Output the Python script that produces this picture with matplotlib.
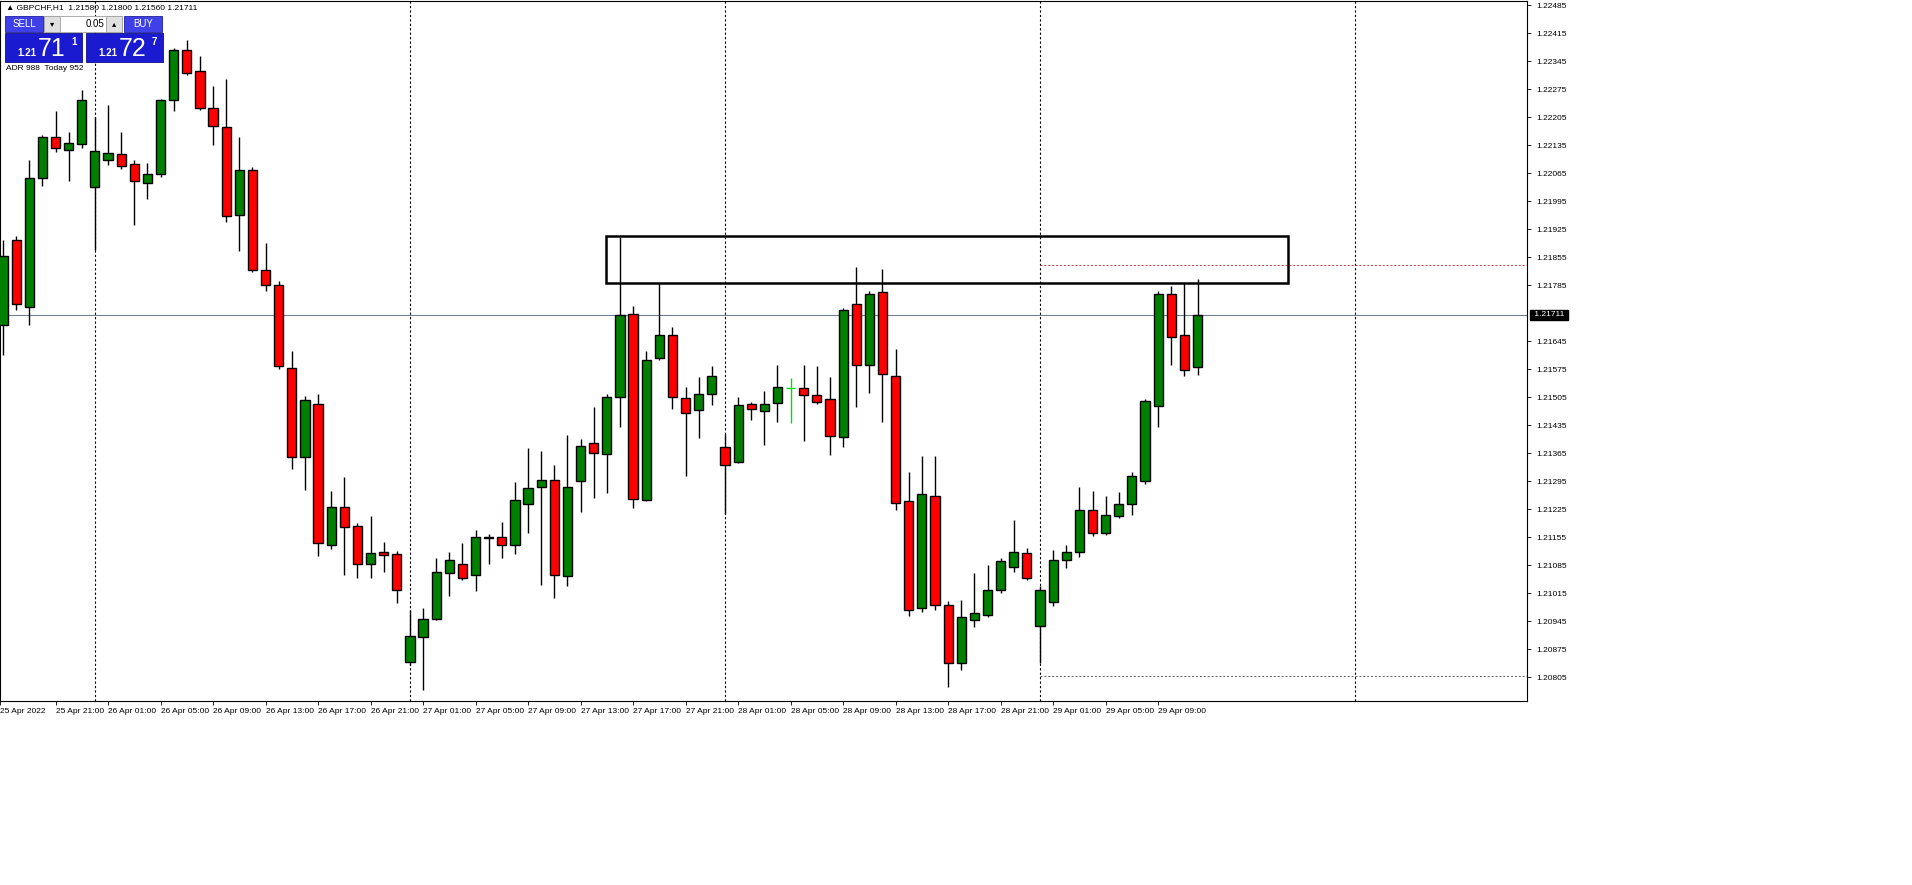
import matplotlib.pyplot as plt
from matplotlib.patches import Rectangle
import numpy as np

plt.rcParams['font.family'] = ['Liberation Sans', 'DejaVu Sans']

# hourly GBPCHF candles, 25 Apr 17:00 .. 29 Apr 12:00
opens = [1.21686, 1.21899, 1.21731, 1.22054, 1.22156, 1.22124, 1.22139, 1.22031, 1.22099, 1.22114,
         1.22089, 1.22041, 1.22064, 1.22249, 1.22374, 1.22321, 1.22229, 1.22181, 1.21961, 1.22074,
         1.21824, 1.21786, 1.21579, 1.21356, 1.21489, 1.21136, 1.21231, 1.21184, 1.21089, 1.21119,
         1.21114, 1.20844, 1.20906, 1.20951, 1.21066, 1.21089, 1.21061, 1.21156, 1.21156, 1.21136,
         1.21239, 1.21281, 1.21299, 1.21059, 1.21296, 1.21391, 1.21364, 1.21506, 1.21714, 1.21249,
         1.21604, 1.21661, 1.21504, 1.21474, 1.21514, 1.21381, 1.21344, 1.21489, 1.21471, 1.21491,
         1.21529, 1.21529, 1.21511, 1.21501, 1.21406, 1.21739, 1.21586, 1.21769, 1.21559, 1.21246,
         1.20979, 1.21259, 1.20986, 1.20841, 1.20949, 1.20961, 1.21024, 1.21081, 1.21116, 1.20934,
         1.20994, 1.21099, 1.21119, 1.21224, 1.21166, 1.21209, 1.21239, 1.21296, 1.21484, 1.21764,
         1.21661, 1.21580]
highs = [1.21899, 1.21909, 1.22099, 1.22161, 1.22221, 1.22169, 1.22274, 1.22206, 1.22236, 1.22169,
         1.22099, 1.22091, 1.22251, 1.22379, 1.22399, 1.22359, 1.22284, 1.22301, 1.22156, 1.22081,
         1.21891, 1.21796, 1.21621, 1.21509, 1.21514, 1.21271, 1.21306, 1.21191, 1.21209, 1.21144,
         1.21121, 1.20974, 1.20979, 1.21104, 1.21119, 1.21141, 1.21174, 1.21164, 1.21194, 1.21293,
         1.21379, 1.21371, 1.21336, 1.21411, 1.21401, 1.21481, 1.21514, 1.21906, 1.21734, 1.21621,
         1.21791, 1.21681, 1.21531, 1.21556, 1.21584, 1.21414, 1.21506, 1.21494, 1.21521, 1.21586,
         1.21554, 1.21586, 1.21584, 1.21556, 1.21729, 1.21831, 1.21771, 1.21826, 1.21626, 1.21319,
         1.21359, 1.21359, 1.20996, 1.20999, 1.21066, 1.21086, 1.21104, 1.21199, 1.21129, 1.21034,
         1.21124, 1.21136, 1.21281, 1.21271, 1.21259, 1.21269, 1.21319, 1.21501, 1.21771, 1.21784,
         1.21791, 1.21800]
lows = [1.21611, 1.21724, 1.21686, 1.22034, 1.22119, 1.22046, 1.22129, 1.21874, 1.22086, 1.22076,
        1.21936, 1.22001, 1.22056, 1.22221, 1.22311, 1.22224, 1.22136, 1.21944, 1.21871, 1.21819,
        1.21771, 1.21576, 1.21326, 1.21273, 1.21109, 1.21126, 1.21061, 1.21054, 1.21054, 1.21069,
        1.20991, 1.20836, 1.20774, 1.20949, 1.21009, 1.21049, 1.21021, 1.21089, 1.21104, 1.21114,
        1.21166, 1.21036, 1.21004, 1.21034, 1.21219, 1.21254, 1.21266, 1.21431, 1.21229, 1.21246,
        1.21599, 1.21476, 1.21308, 1.21403, 1.21486, 1.21214, 1.21341, 1.21449, 1.21386, 1.21444,
        1.21441, 1.21396, 1.21489, 1.21361, 1.21381, 1.21481, 1.21516, 1.21444, 1.21224, 1.20959,
        1.20969, 1.20974, 1.20781, 1.20824, 1.20931, 1.20956, 1.21016, 1.21069, 1.21049, 1.20841,
        1.20984, 1.21079, 1.21106, 1.21159, 1.21161, 1.21204, 1.21211, 1.21289, 1.21431, 1.21586,
        1.21559, 1.21560]
closes = [1.21859, 1.21739, 1.22054, 1.22156, 1.22129, 1.22141, 1.22249, 1.22121, 1.22116, 1.22084,
          1.22046, 1.22064, 1.22249, 1.22374, 1.22316, 1.22229, 1.22184, 1.21959, 1.22074, 1.21824,
          1.21786, 1.21584, 1.21356, 1.21499, 1.21141, 1.21231, 1.21181, 1.21089, 1.21116, 1.21111,
          1.21024, 1.20909, 1.20951, 1.21069, 1.21099, 1.21054, 1.21156, 1.21154, 1.21136, 1.21249,
          1.21279, 1.21299, 1.21061, 1.21281, 1.21384, 1.21366, 1.21506, 1.21711, 1.21251, 1.21599,
          1.21661, 1.21506, 1.21466, 1.21514, 1.21559, 1.21336, 1.21486, 1.21476, 1.21489, 1.21531,
          1.21529, 1.21511, 1.21494, 1.21409, 1.21724, 1.21586, 1.21764, 1.21564, 1.21241, 1.20974,
          1.21264, 1.20986, 1.20841, 1.20956, 1.20966, 1.21024, 1.21096, 1.21119, 1.21054, 1.21024,
          1.21099, 1.21119, 1.21224, 1.21166, 1.21211, 1.21239, 1.21309, 1.21496, 1.21764, 1.21656,
          1.21574, 1.21711]

x_labels = ["25 Apr 2022", "25 Apr 21:00", "26 Apr 01:00", "26 Apr 05:00", "26 Apr 09:00",
            "26 Apr 13:00", "26 Apr 17:00", "26 Apr 21:00", "27 Apr 01:00", "27 Apr 05:00",
            "27 Apr 09:00", "27 Apr 13:00", "27 Apr 17:00", "27 Apr 21:00", "28 Apr 01:00",
            "28 Apr 05:00", "28 Apr 09:00", "28 Apr 13:00", "28 Apr 17:00", "28 Apr 21:00",
            "29 Apr 01:00", "29 Apr 05:00", "29 Apr 09:00"]
x_label_pos = [-0.2] + list(range(4, 92, 4))
day_starts = [7, 31, 55, 79, 103]
last_price = 1.21711
zone_top, zone_bottom = 1.21909, 1.21791
zone_from, zone_to = 45.9, 97.9
level_hi, level_lo = 1.21836, 1.20809
y_ticks = [round(1.22485 - 0.0007 * k, 5) for k in range(25) if k != 11]

W, H = 1912, 885
fig = plt.figure(figsize=(W / 100, H / 100), dpi=100)
fig.patch.set_facecolor("white")
L, R, T, B = 0, 1527, 1, 701
ax = fig.add_axes([L / W, 1 - B / H, (R - L) / W, (B - T) / H])
ax.set_xlim(-0.23, 116.1)
ax.set_ylim(1.224985 - 0.000025 * B, 1.224985 - 0.000025 * T)

idx = np.arange(len(opens))
for i in idx:
    o, h, l, c = opens[i], highs[i], lows[i], closes[i]
    if o == c:
        col = "#00e000"
        ax.vlines(i, l, h, color=col, lw=1, zorder=3)
        ax.hlines(o, i - 0.35, i + 0.35, color=col, lw=1, zorder=3)
        continue
    col = "#008000" if c > o else "#ff0000"
    ax.vlines(i, l, h, color="black", lw=1, zorder=2)
    ax.bar(i, abs(c - o), bottom=min(o, c), width=0.7, color=col,
           edgecolor="black", linewidth=1, zorder=3)

for d in day_starts:
    ax.axvline(d, color="black", ls=(0, (2, 2)), lw=0.8, zorder=1)
ax.axhline(last_price, color="#708090", lw=0.8, zorder=1)
ax.add_patch(Rectangle((zone_from, zone_bottom), zone_to - zone_from, zone_top - zone_bottom,
                       fill=False, edgecolor="black", lw=1.8, zorder=4))
ax.hlines(level_hi, 79, 116.1, color="#c04040", ls=(0, (2, 2)), lw=0.7)
ax.hlines(level_lo, 79, 116.1, color="#606060", ls=(0, (2, 2)), lw=0.7)

ax.yaxis.tick_right()
ax.set_yticks(y_ticks)
ax.set_yticklabels([f"{v:.5f}" for v in y_ticks], fontsize=6)
ax.set_xticks(x_label_pos)
ax.set_xticklabels(x_labels, fontsize=6, ha="left")
ax.tick_params(axis="both", length=3, width=0.6, pad=2)
ax.tick_params(axis="y", pad=4)
for s in ax.spines.values():
    s.set_linewidth(0.8)
ax.text(1.003, last_price, f" {last_price:.5f} ", transform=ax.get_yaxis_transform(),
        fontsize=6, color="white", va="center", ha="left", zorder=6,
        bbox=dict(boxstyle="square,pad=0.15", fc="black", ec="black"))

# overlay in pixel coords for the trade panel
ov = fig.add_axes([0, 0, 1, 1], zorder=10)
ov.set_xlim(0, W)
ov.set_ylim(H, 0)
ov.axis("off")
ov.text(6, 8, "\u25b2 GBPCHF,H1  1.21580 1.21800 1.21560 1.21711", fontsize=6, va="center")
ov.add_patch(Rectangle((5, 16), 38, 16, fc="#4040e8", ec="#2020a0", lw=0.6))
ov.text(24, 24, "SELL", color="white", fontsize=7, ha="center", va="center")
ov.add_patch(Rectangle((44, 16), 78, 16, fc="white", ec="#a0a0a0", lw=0.6))
ov.add_patch(Rectangle((44, 16), 16, 16, fc="#e0e0e0", ec="#a0a0a0", lw=0.6))
ov.add_patch(Rectangle((106, 16), 16, 16, fc="#e0e0e0", ec="#a0a0a0", lw=0.6))
ov.text(52, 24, "\u25be", fontsize=6, ha="center", va="center", family="DejaVu Sans")
ov.text(114, 24, "\u25b4", fontsize=6, ha="center", va="center", family="DejaVu Sans")
ov.text(104, 24, "0.05", fontsize=7, ha="right", va="center")
ov.add_patch(Rectangle((124, 16), 38, 16, fc="#4040e8", ec="#2020a0", lw=0.6))
ov.text(143, 24, "BUY", color="white", fontsize=7, ha="center", va="center")
for x0, big, sup in [(5, "71", "1"), (86, "72", "7")]:
    ov.add_patch(Rectangle((x0, 33), 77, 29, fc="#1a1ad0", ec="#10108a", lw=0.6))
    ov.text(x0 + 12, 58, "1.21", color="white", fontsize=7, weight="bold", va="bottom")
    ov.text(x0 + 33, 61, big, color="white", fontsize=18, va="bottom")
    ov.text(x0 + 66, 42, sup, color="white", fontsize=7, weight="bold", va="center")
ov.text(6, 68, "ADR 988  Today 952", fontsize=6, va="center")

fig.savefig("out.png", dpi=100)
